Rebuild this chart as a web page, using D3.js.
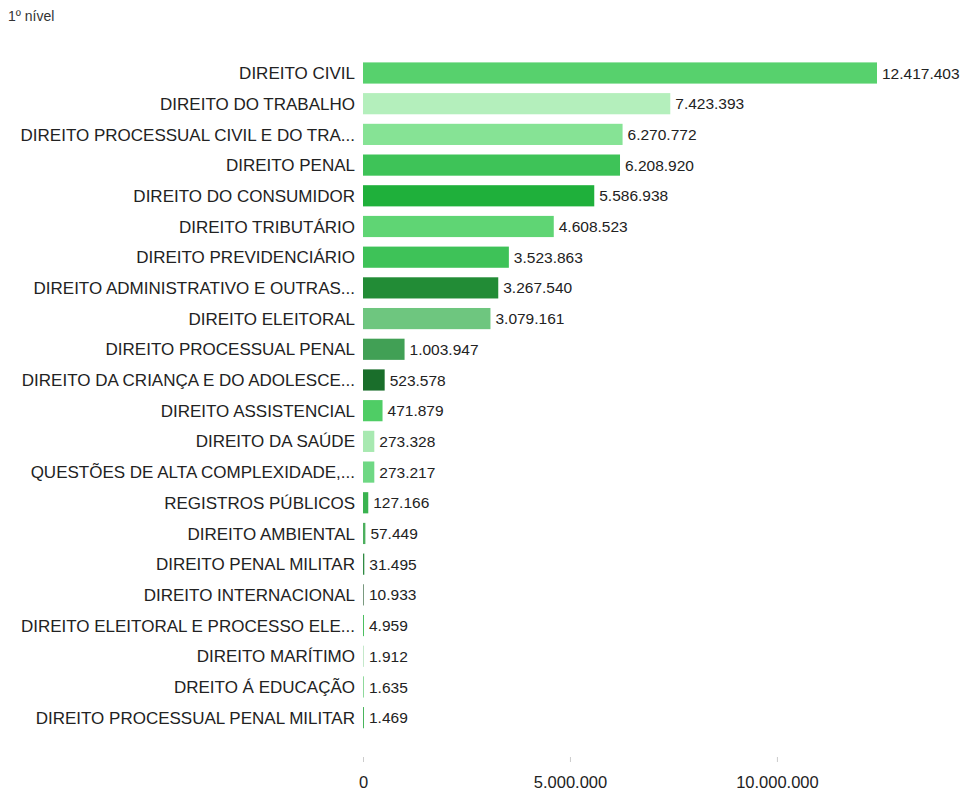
<!DOCTYPE html>
<html>
<head>
<meta charset="utf-8">
<script src="https://cdn.jsdelivr.net/npm/d3@7"></script>
<style>
  body { margin: 0; background: #fff; }
  text { font-family: "Liberation Sans", Arial, sans-serif; }
</style>
</head>
<body>
<svg id="chart" width="970" height="791"></svg>
<script>
// categorias e valores (1º nível)
var categories = [
  "DIREITO CIVIL",
  "DIREITO DO TRABALHO",
  "DIREITO PROCESSUAL CIVIL E DO TRA...",
  "DIREITO PENAL",
  "DIREITO DO CONSUMIDOR",
  "DIREITO TRIBUTÁRIO",
  "DIREITO PREVIDENCIÁRIO",
  "DIREITO ADMINISTRATIVO E OUTRAS...",
  "DIREITO ELEITORAL",
  "DIREITO PROCESSUAL PENAL",
  "DIREITO DA CRIANÇA E DO ADOLESCE...",
  "DIREITO ASSISTENCIAL",
  "DIREITO DA SAÚDE",
  "QUESTÕES DE ALTA COMPLEXIDADE,...",
  "REGISTROS PÚBLICOS",
  "DIREITO AMBIENTAL",
  "DIREITO PENAL MILITAR",
  "DIREITO INTERNACIONAL",
  "DIREITO ELEITORAL E PROCESSO ELE...",
  "DIREITO MARÍTIMO",
  "DREITO Á EDUCAÇÃO",
  "DIREITO PROCESSUAL PENAL MILITAR"
];

var values = [12417403, 7423393, 6270772, 6208920, 5586938, 4608523, 3523863,
  3267540, 3079161, 1003947, 523578, 471879, 273328, 273217, 127166, 57449,
  31495, 10933, 4959, 1912, 1635, 1469];

var barColors = ["#57d16d", "#b4efbc", "#86e395", "#3ec358", "#1fb03b", "#5fd574",
  "#3ec258", "#228c36", "#6ec67f", "#41a055", "#1a6e2b", "#4fcd65", "#a8e9b1",
  "#6fd884", "#3ab350", "#4caf5e", "#2f8a42", "#7a9a80", "#4cbf60", "#c4e8ca",
  "#8fd99c", "#49b55c"];

var tickValues = [0, 5000000, 10000000];

var fmt = function(v) {
  return d3.format(",")(v).replace(/,/g, ".");
};

var data = categories.map(function(c, i) {
  return { name: c, value: values[i], color: barColors[i] };
});

var svg = d3.select("#chart");

var x0 = 363;
var x = d3.scaleLinear()
  .domain([0, 12417403])
  .range([x0, 877]);

var y = d3.scaleBand()
  .domain(categories)
  .range([57.65, 733])
  .paddingInner(0.31)
  .paddingOuter(0.155);

// titulo
svg.append("text")
  .attr("x", 8)
  .attr("y", 21)
  .attr("font-size", 14)
  .attr("fill", "#333")
  .text("1º nível");

var rows = svg.append("g").selectAll("g")
  .data(data)
  .enter().append("g");

rows.append("rect")
  .attr("x", x(0))
  .attr("y", function(d) { return y(d.name); })
  .attr("height", y.bandwidth())
  .attr("width", function(d) { return Math.max(1, x(d.value) - x(0)); })
  .attr("fill", function(d) { return d.color; });

rows.append("text")
  .attr("x", x0 - 8)
  .attr("y", function(d) { return y(d.name) + y.bandwidth() / 2; })
  .attr("dy", "0.36em")
  .attr("text-anchor", "end")
  .attr("font-size", 17)
  .attr("fill", "#222")
  .text(function(d) { return d.name; });

rows.append("text")
  .attr("x", function(d) { return x0 + Math.max(1, x(d.value) - x(0)) + 5; })
  .attr("y", function(d) { return y(d.name) + y.bandwidth() / 2; })
  .attr("dy", "0.36em")
  .attr("font-size", 15.5)
  .attr("fill", "#222")
  .text(function(d) { return fmt(d.value); });

// eixo x
var xAxis = d3.axisBottom(x)
  .tickValues(tickValues)
  .tickSize(5)
  .tickPadding(14)
  .tickFormat(fmt);

var ax = svg.append("g")
  .attr("transform", "translate(0,757)")
  .call(xAxis);

ax.select(".domain").remove();
ax.selectAll(".tick line").attr("stroke", "#ccc");
ax.selectAll(".tick text")
  .attr("font-size", 16.5)
  .attr("font-family", "Liberation Sans, Arial, sans-serif")
  .attr("fill", "#222");
</script>
</body>
</html>
